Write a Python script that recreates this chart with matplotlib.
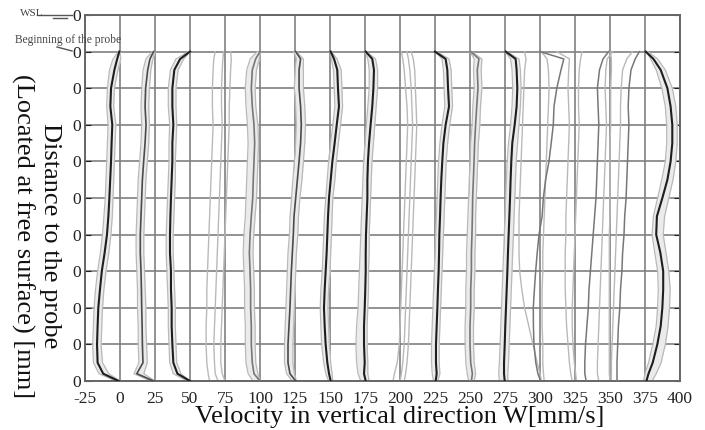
import matplotlib
matplotlib.use("Agg")
import matplotlib.pyplot as plt
from matplotlib.lines import Line2D

plt.rcParams['font.family'] = 'serif'
plt.rcParams['font.serif'] = ['Liberation Serif', 'DejaVu Serif']
plt.rcParams['axes.unicode_minus'] = False

# depth below the free surface (WSL = 0), probe starts at 10
depth = [10, 12, 15, 20, 25, 30, 35, 40, 45, 50, 55, 60, 65, 70, 75, 80, 85, 90, 95, 98, 100]

x_ticks = list(range(-25, 401, 25))
y_ticks = list(range(0, 101, 10))
y_ticklabels = ['0'] * len(y_ticks)

# group around -10 mm/s
g1_mean = [-0.5, -2, -4, -6.4, -6.9, -5.5, -6, -6.4, -7, -7.6, -8.3, -9.3, -11, -13, -14.3, -15.5, -16, -16.4, -16, -12, -1]
g1_low = [-1, -5, -7.5, -9, -9.5, -8.5, -9, -9.5, -10, -10.5, -11.5, -12.5, -14, -16, -17.5, -18.5, -19, -19.5, -19, -15, -3]
g1_high = [0, 0.5, -1.5, -4, -4.5, -3, -3.5, -4, -4.5, -5, -5.5, -6.5, -8, -10, -11.5, -12.5, -13, -13.5, -12.5, -8, 0]
# group around 15
g2_mean = [24, 21.4, 19.8, 18.3, 17.9, 18.6, 17.9, 16.9, 16, 15.5, 15, 14.5, 14.5, 15, 15.3, 15.5, 15.8, 16, 16.4, 12, 24]
g2_low = [23, 18.5, 16.5, 15.5, 15, 15.5, 15, 14, 13, 12.5, 12, 11.5, 11.5, 12, 12.5, 12.5, 13, 13, 13.5, 10, 22]
g2_high = [25, 23.5, 22, 21, 20.5, 21, 20.5, 19.5, 18.5, 18, 17.5, 17, 17, 17.5, 18, 18.5, 18.5, 19, 19.5, 17, 25]
# group around 37
g3_mean = [50, 43, 38.8, 37.4, 37.4, 38.1, 37.4, 37.4, 36.9, 36.4, 36, 35.7, 35.7, 36.4, 36.4, 36.9, 36.9, 37.4, 38.1, 41, 50]
g3_low = [49, 40, 36, 34.5, 34.5, 35.5, 35, 35, 34.5, 34, 33.5, 33, 33, 33.5, 34, 34.5, 34.5, 35, 35.5, 38, 48]
g3_high = [50, 45.5, 41.5, 40, 40, 40.5, 40, 39.5, 39.5, 39, 38.5, 38, 38, 38.5, 39, 39.5, 39.5, 40, 40.5, 43.5, 50]
# group around 70 (light only)
g4_a = [68, 67, 66.5, 66, 66, 66.5, 66, 65.5, 65, 64.5, 64, 63.5, 63, 62.5, 62, 62, 61.5, 61.5, 62, 63, 64]
g4_b = [74, 73.5, 73, 72.5, 72.5, 73, 72.5, 72, 71.5, 71, 70.5, 70, 69.5, 69, 68.5, 68, 67.5, 67, 67.5, 68, 70]
g4_c = [79, 79.5, 79, 78.5, 78, 78, 77.5, 77, 76.5, 76, 75.5, 75, 74.5, 74, 73.5, 73, 72.5, 72, 72, 73, 75]
# group around 95
g5_mean = [100, 96.9, 94.5, 93.8, 94.5, 95.7, 96.2, 95.7, 95.2, 94.8, 93.8, 92.9, 92.4, 92.9, 93.3, 93.3, 93.8, 93.8, 94.5, 95.7, 100]
g5_low = [98, 93, 90.5, 89.5, 90, 91, 91.5, 91, 90.5, 90, 89.5, 88.5, 88, 88.5, 89, 89, 89.5, 89.5, 90, 91.5, 95]
g5_high = [100, 99.5, 97.5, 96.5, 97, 98.5, 99, 98.5, 98, 97.5, 96.5, 95.5, 95, 95.5, 96, 96, 96.5, 96.5, 97, 98.5, 100]
# group around 125
g6_mean = [125.5, 129, 127.9, 127.9, 129, 129.5, 129, 127.9, 126.7, 125.5, 124.3, 123.8, 123.1, 122.4, 121.9, 121.4, 120.7, 120, 120, 121.4, 125.5]
g6_low = [124, 126, 125, 124.5, 125.5, 126, 125.5, 124.5, 123.5, 122.5, 121.5, 121, 120, 119.5, 119, 118.5, 118, 117.5, 117.5, 119, 123]
g6_high = [126, 131, 131, 131, 132, 132.5, 132, 131, 130, 128.5, 127.5, 127, 126, 125.5, 125, 124.5, 124, 123.5, 123.5, 124.5, 126]
# group around 150
g7_mean = [150.5, 152.9, 155.2, 155.7, 156.4, 154.8, 153.3, 151.7, 150.5, 149.3, 148.6, 148.1, 147.6, 146.9, 146.2, 145.7, 146.2, 146.9, 148.1, 149.3, 150.5]
g7_low = [150, 151, 152.5, 153, 153.5, 152, 150.5, 149, 148, 147, 146, 145.5, 145, 144.5, 143.5, 143, 143.5, 144, 145.5, 147, 149]
g7_high = [151, 155, 158, 158.5, 159, 157.5, 156, 154.5, 153.5, 152, 151.5, 151, 150.5, 150, 149, 148.5, 149, 149.5, 150.5, 151.5, 152]
# group around 175
g8_mean = [175.5, 180.2, 181.4, 181, 180.2, 179, 177.9, 177.1, 176.7, 176.7, 176.2, 175.7, 175.5, 175.5, 175.2, 174.8, 174.3, 174.3, 174.8, 174.3, 175.5]
g8_low = [175, 177, 178, 178, 177, 176, 175, 174, 173.5, 173, 172.5, 172, 171.5, 171, 170.5, 170, 169, 168.5, 169, 170, 172]
g8_high = [176, 182.5, 184, 184, 183, 182, 181, 180, 179.5, 179, 178.5, 178, 178, 177.5, 177.5, 177, 176.5, 176.5, 177, 177, 178]
# group around 205 (light only)
g9_a = [201, 202, 203, 204, 205, 205.5, 205, 204.5, 204, 203.5, 203, 202.5, 202, 201.5, 201, 200.5, 200, 199.5, 198, 196, 195]
g9_b = [205, 206, 207, 208, 208.5, 209, 208.5, 208, 207.5, 207, 206.5, 206, 205.5, 205, 204.5, 204, 203.5, 203, 202, 201, 200]
g9_c = [208, 209.5, 210.5, 211, 211.5, 212, 211.5, 211, 210.5, 210, 209.5, 209, 208.5, 208, 207.5, 207, 206.5, 206, 205, 204, 203]
# group around 228
g10_mean = [225, 232.6, 233.8, 234.3, 235, 232.6, 231, 230.2, 229.5, 229, 228.6, 228.1, 227.9, 227.6, 227.1, 226.7, 226.2, 225.7, 225.7, 226.2, 225.5]
g10_low = [225, 230, 231, 231.5, 232, 230, 228.5, 227.5, 227, 226.5, 226, 225.5, 225, 224.5, 224, 223.5, 223, 222.5, 222.5, 223, 224]
g10_high = [226, 235, 236.5, 237, 237.5, 235.5, 234, 233, 232.5, 232, 231.5, 231, 230.5, 230, 229.5, 229, 228.5, 228, 228, 228.5, 227]
# group around 252
g11_mean = [250.5, 256.4, 255.2, 255.7, 254.8, 254, 253.3, 252.9, 252.4, 251.9, 251.7, 251.4, 251, 251, 250.5, 250.5, 250, 250, 250.5, 251.7, 251]
g11_low = [250, 253, 252.5, 253, 252, 251.5, 250.5, 250, 249.5, 249, 248.5, 248, 247.5, 247.5, 247, 247, 246.5, 246.5, 247, 248, 249]
g11_high = [251, 258.5, 258, 258.5, 257.5, 257, 256, 255.5, 255, 254.5, 254, 254, 253.5, 253.5, 253, 253, 252.5, 252.5, 253, 254, 253]
# group around 277
g12_mean = [275.5, 282.6, 283.3, 283.8, 283.3, 281.9, 280.2, 279.5, 279, 278.6, 278.1, 277.6, 277.1, 276.7, 276.2, 275.7, 275.2, 274.8, 274.3, 274.3, 274.8]
g12_low = [275, 279, 280, 280.5, 280, 279, 277.5, 276.5, 276, 275.5, 275, 274.5, 274, 273.5, 273, 272.5, 272, 271.5, 271, 270.5, 271]
g12_high = [276, 285, 286, 286.5, 286, 285, 284, 283, 282.5, 282, 281.5, 281, 280.5, 280, 279.5, 279, 278.5, 278, 277.5, 277, 277]
g12_d = [289, 290, 289, 288.5, 288, 287.5, 287, 286.5, 286, 285.5, 285, 285, 285, 285.5, 287, 289, 292, 295, 298, 300, 301]
# groups between 300 and 370
g13_mean = [300, 317, 315, 312, 310, 309.5, 308, 306.4, 304, 302.4, 301.5, 299.3, 298, 296.9, 296, 295.2, 295.3, 295.7, 297, 298.5, 300.5]
g13_a = [301, 305, 306, 306.5, 306, 305.5, 305, 304.5, 304, 303.5, 303, 302.5, 302, 302, 301.5, 301.5, 301.5, 302, 302, 302.5, 303]
g13_b = [312, 321, 320.5, 320, 320.5, 321, 320.5, 320, 319.5, 319, 318.5, 318.5, 318, 318, 318, 318.5, 319, 320, 321, 322, 323]
g13_c = [330, 329, 328, 327.5, 327.5, 328, 327.5, 327, 326.5, 326, 325.5, 325, 324.5, 324, 323.5, 323, 323, 323.5, 324.5, 325.5, 326]
g14_mean = [349, 345, 342.5, 341, 341.5, 342, 341.5, 341, 340.5, 340, 339, 338, 337, 336, 335, 334.5, 333.5, 332.5, 332, 332, 333]
g14_b = [352, 348, 347, 346.5, 347, 347.5, 347, 346.5, 346, 345.5, 345, 344.5, 344, 343.5, 343, 342.5, 342, 341.5, 341, 341, 342]
g15_mean = [371, 368, 365, 363.5, 363, 363.5, 363, 362.5, 362, 361.5, 360.5, 360, 359, 358.5, 357.5, 357, 356, 355.5, 355, 355, 355]
g15_b = [366, 362, 359, 358, 357.5, 357.5, 357, 356.5, 356, 355.5, 355, 354.5, 354, 353.5, 353, 352.5, 352, 351.5, 351, 351, 351]
g15_c = [350, 351, 351, 350.5, 350.5, 350.5, 350, 350, 350, 350, 350, 349.5, 349.5, 349.5, 349.5, 349.5, 349.5, 349.5, 349.5, 349.5, 350]
# group around 385
g16_mean = [375.5, 381, 386.2, 391, 393.3, 394.5, 394.5, 393.3, 391, 387.4, 383.5, 383, 386, 388, 388, 387.4, 386.2, 383.8, 380.5, 377.5, 376]
g16_low = [376, 379, 383, 387, 389.5, 390.5, 390.5, 389.5, 387, 384, 381, 380, 382, 384, 384.5, 384, 383, 380.5, 377.5, 375, 374]
g16_high = [377, 384, 389.5, 394.5, 397, 398, 398, 397, 395, 392, 389, 388, 390, 392, 393, 392.5, 391.5, 389.5, 386.5, 383, 380]

DARK = '#1e1e1e'
MID = '#4a4a4a'
SOFT = '#777777'
LIGHT = '#b9b9b9'
BAND = '#ebebeb'

# (low, high, mean, colour of mean)
groups = [
    (g1_low, g1_high, g1_mean, DARK),
    (g2_low, g2_high, g2_mean, MID),
    (g3_low, g3_high, g3_mean, DARK),
    (g5_low, g5_high, g5_mean, SOFT),
    (g6_low, g6_high, g6_mean, MID),
    (g7_low, g7_high, g7_mean, DARK),
    (g8_low, g8_high, g8_mean, DARK),
    (g10_low, g10_high, g10_mean, DARK),
    (g11_low, g11_high, g11_mean, SOFT),
    (g12_low, g12_high, g12_mean, DARK),
    (g16_low, g16_high, g16_mean, DARK),
]
light_lines = [g4_a, g4_b, g4_c, g9_a, g9_b, g9_c, g12_d, g13_a, g13_b, g13_c, g14_b, g15_b, g15_c]
soft_lines = [g13_mean, g14_mean, g15_mean]

fig = plt.figure(figsize=(7.05, 4.30), dpi=100)
ax = fig.add_axes([85 / 705, 1 - 381 / 430, 595 / 705, 366 / 430])

for low, high, mean, col in groups:
    ax.fill_betweenx(depth, low, high, color=BAND, lw=0, zorder=1)
    ax.plot(low, depth, color=LIGHT, lw=0.9, zorder=2)
    ax.plot(high, depth, color=LIGHT, lw=0.9, zorder=2)
for line in light_lines:
    ax.plot(line, depth, color=LIGHT, lw=1.0, zorder=2)
for line in soft_lines:
    ax.plot(line, depth, color=SOFT, lw=1.1, zorder=3)
for low, high, mean, col in groups:
    ax.plot(mean, depth, color=col, lw=1.5 if col == DARK else 1.2, zorder=4)

ax.set_xlim(-25, 400)
ax.set_ylim(100, 0)
ax.set_xticks(x_ticks)
ax.set_yticks(y_ticks)
ax.set_yticklabels(y_ticklabels)
ax.grid(True, color='#808080', lw=1.2, zorder=0)
ax.set_axisbelow(True)
for s in ax.spines.values():
    s.set_color('#666666')
    s.set_linewidth(1.4)
ax.tick_params(axis='x', length=0, pad=7, labelsize=12.5, colors='#222222')
ax.tick_params(axis='y', direction='in', length=4, pad=3, labelsize=12.5,
               colors='#222222', right=True)

fig.text(36 / 705, 1 - 236 / 430, 'Distance to the probe\n(Located at free surface) [mm]',
         rotation=270, ha='center', va='center', multialignment='center',
         fontsize=19, linespacing=1.25, color='#111111')
fig.text(400 / 705, 7 / 430, 'Velocity in vertical direction W[mm/s]',
         ha='center', va='baseline', fontsize=19, color='#111111')

# water surface and probe start marks
fig.text(20 / 705, 1 - 14 / 430, 'WSL', ha='left', va='center', fontsize=8, color='#444444')
fig.add_artist(Line2D([38 / 705, 72 / 705], [1 - 15 / 430, 1 - 15 / 430], color='#555555', lw=1))
fig.add_artist(Line2D([53 / 705, 67 / 705], [1 - 18 / 430, 1 - 18 / 430], color='#555555', lw=1))
fig.text(15 / 705, 1 - 40 / 430, 'Beginning of the probe', ha='left', va='center',
         fontsize=8.3, color='#444444')
fig.add_artist(Line2D([57 / 705, 72 / 705], [1 - 47 / 430, 1 - 51 / 430], color='#555555', lw=1))

fig.savefig('out.png', dpi=100)
